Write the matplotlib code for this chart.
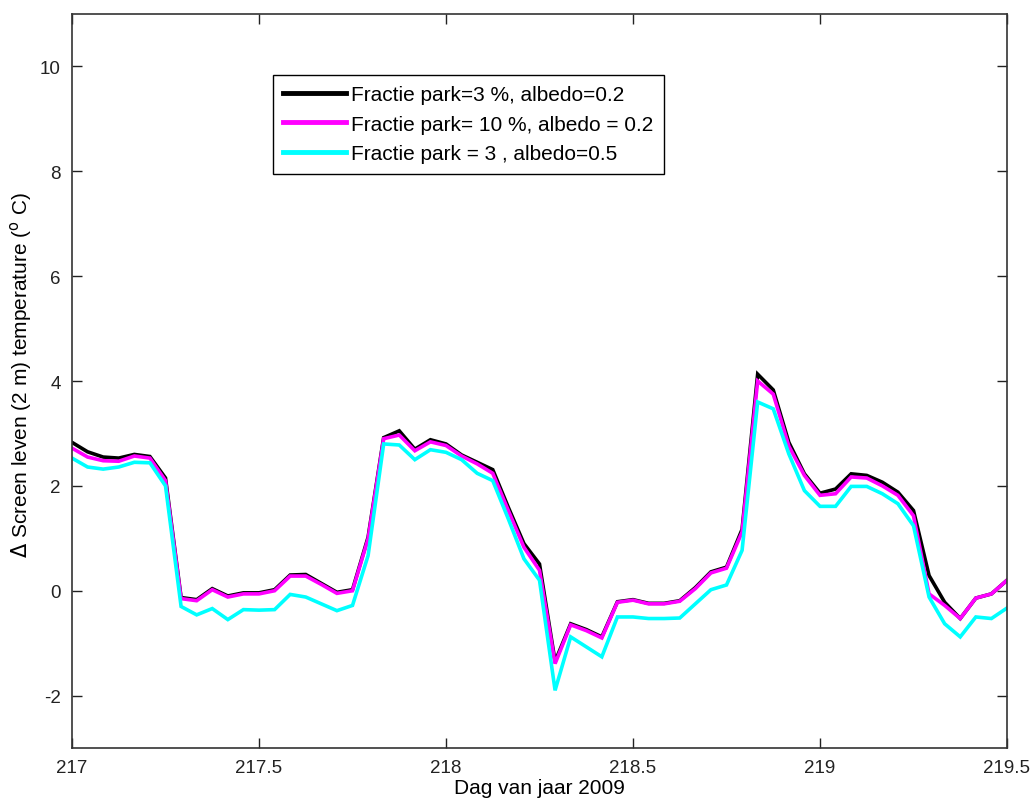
import numpy as np
import matplotlib
matplotlib.use("Agg")
import matplotlib.pyplot as plt

plt.rcParams['font.family'] = ['Liberation Sans', 'DejaVu Sans']
plt.rcParams['axes.unicode_minus'] = False

# hourly samples, day-of-year 217.0 .. 219.5
day_start = 217.0
n_hours = 61
days = day_start + np.arange(n_hours) / 24.0

black_vals = [2.83, 2.65, 2.55, 2.53, 2.60, 2.56, 2.15, -0.13, -0.17, 0.04, -0.10, -0.04, -0.04, 0.02,
              0.30, 0.31, 0.14, -0.03, 0.02, 1.02, 2.92, 3.05, 2.70, 2.88, 2.80, 2.59, 2.45, 2.31,
              1.59, 0.90, 0.51, -1.35, -0.63, -0.74, -0.88, -0.21, -0.17, -0.24, -0.24, -0.19,
              0.06, 0.36, 0.45, 1.17, 4.13, 3.83, 2.83, 2.23, 1.86, 1.94, 2.23, 2.20, 2.07, 1.88,
              1.53, 0.29, -0.22, -0.53, -0.14, -0.06, 0.20]
magenta_vals = [2.72, 2.55, 2.48, 2.47, 2.57, 2.53, 2.10, -0.15, -0.19, 0.02, -0.12, -0.06, -0.06, 0.00,
                0.28, 0.28, 0.12, -0.05, 0.00, 0.99, 2.90, 2.97, 2.67, 2.84, 2.77, 2.57, 2.42, 2.24,
                1.53, 0.83, 0.39, -1.39, -0.65, -0.76, -0.90, -0.22, -0.18, -0.25, -0.25, -0.20,
                0.04, 0.34, 0.43, 1.12, 4.00, 3.75, 2.76, 2.20, 1.82, 1.85, 2.17, 2.15, 2.00, 1.82,
                1.43, -0.06, -0.28, -0.53, -0.14, -0.06, 0.20]
cyan_vals = [2.53, 2.36, 2.32, 2.36, 2.45, 2.44, 2.00, -0.30, -0.46, -0.34, -0.55, -0.36, -0.37, -0.36,
             -0.07, -0.12, -0.25, -0.38, -0.28, 0.67, 2.80, 2.78, 2.50, 2.69, 2.64, 2.50, 2.24, 2.10,
             1.37, 0.61, 0.20, -1.90, -0.88, -1.07, -1.26, -0.50, -0.50, -0.53, -0.53, -0.52,
             -0.25, 0.02, 0.11, 0.77, 3.60, 3.47, 2.61, 1.91, 1.61, 1.61, 1.99, 1.99, 1.85, 1.66,
             1.24, -0.12, -0.63, -0.88, -0.50, -0.53, -0.33]

labels = ["Fractie park=3 %, albedo=0.2",
          "Fractie park= 10 %, albedo = 0.2",
          "Fractie park = 3 , albedo=0.5"]
colors = ["black", "#ff00ff", "#00ffff"]

xticks = [217, 217.5, 218, 218.5, 219, 219.5]
xticklabels = ["217", "217.5", "218", "218.5", "219", "219.5"]
yticks = [-2, 0, 2, 4, 6, 8, 10]

fig = plt.figure(figsize=(10.36, 8.03), dpi=100)
ax = fig.add_axes([0.0695, 0.0672, 0.9025, 0.9141])

for vals, col, lab in zip([black_vals, magenta_vals, cyan_vals], colors, labels):
    ax.plot(days, vals, color=col, lw=2.6, label=lab, solid_joinstyle='miter')

ax.set_xlim(217, 219.5)
ax.set_ylim(-3, 11)
ax.set_xticks(xticks)
ax.set_xticklabels(xticklabels)
ax.set_yticks(yticks)
ax.tick_params(direction='in', length=7, width=1, top=True, right=True,
               labelsize=13.5, colors='#222222', pad=8)
for sp in ax.spines.values():
    sp.set_linewidth(1.2)
    sp.set_color('#333333')

ax.set_xlabel("Dag van jaar 2009", fontsize=15, labelpad=1)
ax.set_ylabel(r"$\Delta$ Screen leven (2 m) temperature ($^{\rm o}$ C)", fontsize=15)
ax.yaxis.set_label_coords(-0.041, 0.51)

leg = ax.legend(loc='upper left', bbox_to_anchor=(0.215, 0.917), fontsize=15,
                frameon=True, fancybox=False, edgecolor='black', framealpha=1,
                handlelength=3.0, handletextpad=0.25, borderpad=0.5, labelspacing=0.5,
                borderaxespad=0)
leg.get_frame().set_linewidth(1.0)
for line in leg.get_lines():
    line.set_linewidth(3.5)

fig.savefig("out.png", dpi=100)
